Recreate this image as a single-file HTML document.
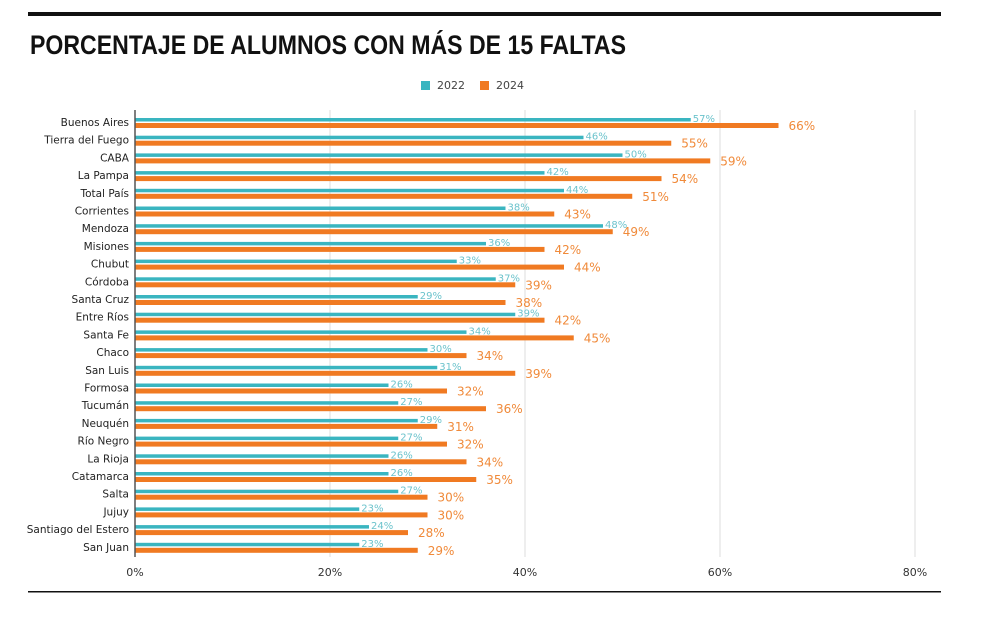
<!DOCTYPE html>
<html><head><meta charset="utf-8"><style>
body{margin:0;background:#fff;width:1000px;height:629px;overflow:hidden}
svg{display:block}
</style></head><body>
<svg id="s" width="1000" height="629" xmlns="http://www.w3.org/2000/svg" font-family="'DejaVu Sans','Liberation Sans',sans-serif">
<rect x="28" y="12" width="913" height="4" fill="#111"/>
<text x="30" y="54" font-family="'Liberation Sans',sans-serif" font-weight="bold" font-size="27" fill="#111" textLength="596" lengthAdjust="spacingAndGlyphs">PORCENTAJE DE ALUMNOS CON MÁS DE 15 FALTAS</text>
<rect x="421" y="81" width="9" height="9" fill="#3ab5c0"/>
<text x="437" y="89" font-size="11" fill="#444">2022</text>
<rect x="480" y="81" width="9" height="9" fill="#f07a22"/>
<text x="496" y="89" font-size="11" fill="#444">2024</text>
<g id="g"></g>
<rect x="28" y="591" width="913" height="1.5" fill="#111"/>
</svg>
<script>
const d=[["Buenos Aires",57,66],["Tierra del Fuego",46,55],["CABA",50,59],["La Pampa",42,54],["Total País",44,51],["Corrientes",38,43],["Mendoza",48,49],["Misiones",36,42],["Chubut",33,44],["Córdoba",37,39],["Santa Cruz",29,38],["Entre Ríos",39,42],["Santa Fe",34,45],["Chaco",30,34],["San Luis",31,39],["Formosa",26,32],["Tucumán",27,36],["Neuquén",29,31],["Río Negro",27,32],["La Rioja",26,34],["Catamarca",26,35],["Salta",27,30],["Jujuy",23,30],["Santiago del Estero",24,28],["San Juan",23,29]];
const x0=135,k=9.75;let h='';
for(let i=1;i<=4;i++){const x=x0+i*20*k;h+=`<line x1="${x}" y1="110" x2="${x}" y2="557" stroke="#ddd" stroke-width="1"/>`;}
for(let i=0;i<=4;i++){const x=x0+i*20*k;h+=`<text x="${x}" y="576" font-size="11" fill="#333" text-anchor="middle">${i*20}%</text>`;}
d.forEach((r,i)=>{const y=122+i*17.7;
h+=`<text x="129" y="${y+4}" font-size="10.5" fill="#222" text-anchor="end">${r[0]}</text>`;
h+=`<rect x="${x0}" y="${y-4}" width="${r[1]*k}" height="3.5" fill="#3ab5c0"/>`;
h+=`<rect x="${x0}" y="${y+1}" width="${r[2]*k}" height="5" fill="#f07a22"/>`;
h+=`<text x="${x0+r[1]*k+2}" y="${y}" font-size="10" fill="#6cc3cc">${r[1]}%</text>`;
h+=`<text x="${x0+r[2]*k+10}" y="${y+8}" font-size="12" fill="#f08a3a">${r[2]}%</text>`;});
h+=`<line x1="135" y1="110" x2="135" y2="557" stroke="#555" stroke-width="1.5"/>`;
document.getElementById('g').innerHTML=h;
</script>
</body></html>
